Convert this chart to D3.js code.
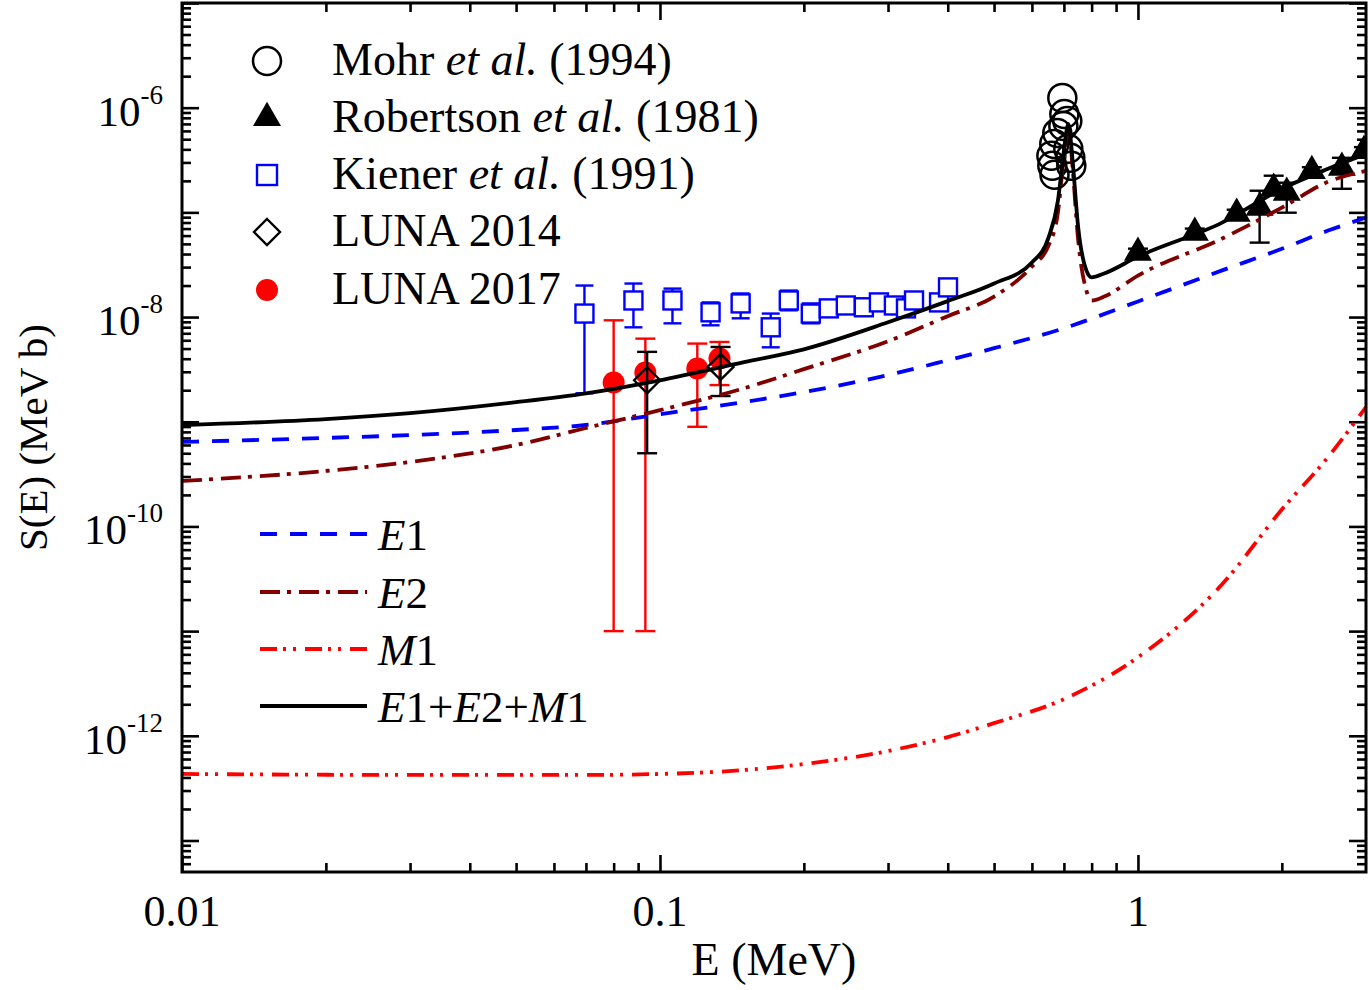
<!DOCTYPE html>
<html>
<head>
<meta charset="utf-8">
<script src="https://cdn.jsdelivr.net/npm/d3@7"></script>
<style>
body { margin: 0; background: #fff; }
text { font-family: "Liberation Serif", "Times New Roman", serif; fill: #000; }
</style>
</head>
<body>
<div id="chart"></div>
<script>
var svgWidth = 1369;
var svgHeight = 990;
var margin = {top: 3, right: 3, bottom: 118, left: 182};
var chartWidth = svgWidth - margin.left - margin.right;
var chartHeight = svgHeight - margin.top - margin.bottom;

// model curves (E in MeV, S in MeV b)
var curveE   = [0.01,0.02,0.03,0.05,0.07,0.1,0.15,0.2,0.3,0.4,0.5,0.6,0.65,0.68,0.70,0.71,0.715,0.72,0.73,0.75,0.78,0.8,0.85,1.0,1.5,2,2.5,3];
var totalS   = [9.31e-10,1.06e-9,1.21e-9,1.54e-9,1.87e-9,2.49e-9,3.71e-9,4.92e-9,8.91e-9,1.42e-8,2.09e-8,3.32e-8,5.74e-8,1.29e-7,3.87e-7,6.27e-7,7.0e-7,6.0e-7,3.11e-7,7.14e-8,2.79e-8,2.39e-8,2.61e-8,3.78e-8,7.98e-8,1.68e-7,2.61e-7,3.62e-7];
var e2S      = [2.72e-10,3.39e-10,4.13e-10,6.0e-10,8.71e-10,1.29e-9,2.09e-9,3.18e-9,5.88e-9,1.02e-8,1.57e-8,3.04e-8,4.82e-8,9.93e-8,3.47e-7,5.74e-7,6.41e-7,5.50e-7,2.67e-7,5.37e-8,1.79e-8,1.44e-8,1.57e-8,2.49e-8,5.62e-8,1.11e-7,1.96e-7,2.49e-7];
var e1E      = [0.01,0.02,0.03,0.05,0.07,0.1,0.15,0.2,0.3,0.4,0.5,0.7,1.0,1.5,2,2.5,3];
var e1S      = [6.41e-10,7.0e-10,7.46e-10,8.34e-10,9.31e-10,1.18e-9,1.54e-9,1.92e-9,2.79e-9,3.87e-9,5.04e-9,7.82e-9,1.41e-8,2.79e-8,4.49e-8,6.70e-8,8.91e-8];
var m1E      = [0.01,0.03,0.07,0.1,0.15,0.2,0.3,0.4,0.5,0.7,1.0,1.5,2,2.5,3];
var m1S      = [4.32e-13,4.23e-13,4.23e-13,4.32e-13,4.71e-13,5.37e-13,7.15e-13,9.72e-13,1.32e-12,2.24e-12,5.62e-12,2.8e-11,1.45e-10,4.61e-10,1.38e-9];

// data sets
var mohrE = [0.6947,0.7014,0.7116,0.6981,0.6780,0.6683,0.6590,0.6620,0.6690,0.7150,0.7219,0.7254];
var mohrS = [1.24e-6,8.71e-7,7.46e-7,6.70e-7,5.74e-7,4.51e-7,3.47e-7,2.79e-7,2.29e-7,4.05e-7,3.32e-7,2.79e-7];

var robE    = [1.00,1.315,1.609,1.797,1.923,2.048,2.311,2.671,2.97];
var robS    = [4.13e-8,6.41e-8,9.73e-8,1.11e-7,1.68e-7,1.54e-7,2.49e-7,2.67e-7,3.87e-7];
var robLo   = [3.8e-8,5.9e-8,9.0e-8,5.14e-8,1.50e-7,9.93e-8,2.3e-7,1.68e-7,3.6e-7];
var robHi   = [4.5e-8,7.0e-8,1.06e-7,1.61e-7,2.24e-7,1.92e-7,2.7e-7,3.32e-7,4.2e-7];

var kienerE  = [0.0695,0.0880,0.1062,0.1276,0.1475,0.1705,0.1860,0.2068,0.2255,0.2448,0.2670,0.2871,0.3086,0.3271,0.3400,0.3836,0.4005];
var kienerS  = [1.08e-8,1.44e-8,1.44e-8,1.11e-8,1.35e-8,7.98e-9,1.44e-8,1.08e-8,1.21e-8,1.29e-8,1.24e-8,1.38e-8,1.29e-8,1.21e-8,1.44e-8,1.38e-8,1.92e-8];
var kienerLo = [1.87e-9,7.98e-9,8.71e-9,8.34e-9,9.73e-9,5.14e-9,1.16e-8,8.71e-9,1.10e-8,1.18e-8,1.13e-8,1.26e-8,1.18e-8,1.10e-8,1.31e-8,1.26e-8,1.75e-8];
var kienerHi = [2.0e-8,2.09e-8,1.87e-8,1.38e-8,1.68e-8,1.08e-8,1.79e-8,1.35e-8,1.33e-8,1.41e-8,1.36e-8,1.51e-8,1.41e-8,1.33e-8,1.58e-8,1.51e-8,2.10e-8];

var luna14E  = [0.0940,0.1339];
var luna14S  = [2.49e-9,3.34e-9];
var luna14Lo = [5.0e-10,1.76e-9];
var luna14Hi = [4.65e-9,5.18e-9];

var luna17E  = [0.0800,0.0932,0.1197,0.1332];
var luna17S  = [2.37e-9,2.95e-9,3.23e-9,4.02e-9];
var luna17Lo = [1.0e-11,1.0e-11,8.95e-10,2.24e-9];
var luna17Hi = [9.31e-9,6.22e-9,5.58e-9,5.78e-9];

// axis ticks
var xMajor = [0.01,0.1,1];
var xLabels = ["0.01","0.1","1"];
var yMajor = [1e-13,1e-12,1e-11,1e-10,1e-9,1e-8,1e-7,1e-6,1e-5];
var yLabelExp = [-12,-10,-8,-6];

var svg = d3.select("#chart").append("svg").attr("width", svgWidth).attr("height", svgHeight);
var chartGroup = svg.append("g").attr("transform", `translate(${margin.left},${margin.top})`);

var x = d3.scaleLog().domain([0.01, 3]).range([0, chartWidth]);
var y = d3.scaleLog().domain([5e-14, 1e-5]).range([chartHeight, 0]);

// minor ticks from 2..9 of each decade
function minors(lo, hi, d0, d1) {
    var out = [];
    for (var d = d0; d <= d1; d++) {
        for (var k = 2; k <= 9; k++) {
            var v = k * Math.pow(10, d);
            if (v > lo * 1.0001 && v < hi * 0.9999) out.push(v);
        }
    }
    return out;
}
var xMinor = minors(0.01, 3, -2, 0);
var yMinor = minors(5e-14, 1e-5, -14, -6);

function drawTicks(axisFn, scale, vals, size, transform) {
    var g = chartGroup.append("g").attr("transform", transform)
        .call(axisFn(scale).tickValues(vals).tickSizeInner(-size).tickSizeOuter(0).tickFormat(""));
    g.select(".domain").remove();
    g.selectAll("line").attr("stroke", "#000").attr("stroke-width", 2.6);
}
drawTicks(d3.axisBottom, x, xMajor, 17, `translate(0,${chartHeight})`);
drawTicks(d3.axisBottom, x, xMinor, 9, `translate(0,${chartHeight})`);
drawTicks(d3.axisTop, x, xMajor, 17, "translate(0,0)");
drawTicks(d3.axisTop, x, xMinor, 9, "translate(0,0)");
drawTicks(d3.axisLeft, y, yMajor, 17, "translate(0,0)");
drawTicks(d3.axisLeft, y, yMinor, 9, "translate(0,0)");
drawTicks(d3.axisRight, y, yMajor, 17, `translate(${chartWidth},0)`);
drawTicks(d3.axisRight, y, yMinor, 9, `translate(${chartWidth},0)`);

// tick labels
chartGroup.selectAll(".xlab").data(xMajor).enter().append("text")
    .attr("x", d => x(d)).attr("y", chartHeight + 54)
    .attr("text-anchor", "middle").style("font-size", "44px")
    .text((d, i) => xLabels[i]);

var ylab = chartGroup.selectAll(".ylab").data(yLabelExp).enter().append("text")
    .attr("x", -19).attr("y", d => y(Math.pow(10, d)) + 18)
    .attr("text-anchor", "end").style("font-size", "43px");
ylab.append("tspan").text("10");
ylab.append("tspan").attr("dy", -22).style("font-size", "27px").text(d => String(d));

// axis titles
svg.append("text").attr("x", margin.left + chartWidth / 2).attr("y", 975)
    .attr("text-anchor", "middle").style("font-size", "46px").text("E (MeV)");
svg.append("text").attr("transform", `translate(47,${margin.top + chartHeight / 2}) rotate(-90)`)
    .attr("text-anchor", "middle").style("font-size", "41px").text("S(E) (MeV b)");

// clip
svg.append("defs").append("clipPath").attr("id", "clip")
    .append("rect").attr("width", chartWidth).attr("height", chartHeight);
var plot = chartGroup.append("g").attr("clip-path", "url(#clip)");

function errorBars(g, E, lo, hi, color, cap) {
    E.forEach(function(e, i) {
        var cx = x(e);
        g.append("line").attr("x1", cx).attr("x2", cx).attr("y1", y(lo[i])).attr("y2", y(hi[i]))
            .attr("stroke", color).attr("stroke-width", 2.4);
        [lo[i], hi[i]].forEach(function(v) {
            g.append("line").attr("x1", cx - cap / 2).attr("x2", cx + cap / 2).attr("y1", y(v)).attr("y2", y(v))
                .attr("stroke", color).attr("stroke-width", 2.4);
        });
    });
}

// Kiener squares
errorBars(plot, kienerE, kienerLo, kienerHi, "#0000ff", 18);
plot.selectAll(".kiener").data(kienerE).enter().append("rect")
    .attr("x", d => x(d) - 9).attr("y", (d, i) => y(kienerS[i]) - 9)
    .attr("width", 18).attr("height", 18)
    .attr("fill", "#fff").attr("stroke", "#0000ff").attr("stroke-width", 2.4);

// LUNA 2017
errorBars(plot, luna17E, luna17Lo, luna17Hi, "#ff0000", 20);
plot.selectAll(".l17").data(luna17E).enter().append("circle")
    .attr("cx", d => x(d)).attr("cy", (d, i) => y(luna17S[i])).attr("r", 11)
    .attr("fill", "#ff0000");

// LUNA 2014
errorBars(plot, luna14E, luna14Lo, luna14Hi, "#000", 20);
function diamond(r) { return `M0,${-r}L${r},0L0,${r}L${-r},0Z`; }
plot.selectAll(".l14").data(luna14E).enter().append("path")
    .attr("d", diamond(13))
    .attr("transform", (d, i) => `translate(${x(d)},${y(luna14S[i])})`)
    .attr("fill", "none").attr("stroke", "#000").attr("stroke-width", 2.4);

// Robertson triangles
errorBars(plot, robE, robLo, robHi, "#000", 20);
var tri = d3.symbol().type(d3.symbolTriangle).size(340);
plot.selectAll(".rob").data(robE).enter().append("path")
    .attr("d", tri)
    .attr("transform", (d, i) => `translate(${x(d)},${y(robS[i])})`)
    .attr("fill", "#000");

// Mohr circles
plot.selectAll(".mohr").data(mohrE).enter().append("circle")
    .attr("cx", d => x(d)).attr("cy", (d, i) => y(mohrS[i])).attr("r", 14)
    .attr("fill", "none").attr("stroke", "#000").attr("stroke-width", 2.5);

// curves
var styles = {
    e1:    {color: "#0000ff", dash: "17,13"},
    e2:    {color: "#800000", dash: "20,7,4,8"},
    m1:    {color: "#ff0000", dash: "17,6,3,7,3,9"},
    total: {color: "#000", dash: null}
};
var line = d3.line().x(d => x(d[0])).y(d => y(d[1])).curve(d3.curveMonotoneX);
function drawCurve(E, S, st) {
    plot.append("path").datum(E.map((e, i) => [e, S[i]]))
        .attr("d", line).attr("fill", "none")
        .attr("stroke", st.color).attr("stroke-width", 3.8)
        .attr("stroke-dasharray", st.dash);
}
drawCurve(m1E, m1S, styles.m1);
drawCurve(e1E, e1S, styles.e1);
drawCurve(curveE, e2S, styles.e2);
drawCurve(curveE, totalS, styles.total);

// frame
chartGroup.append("rect").attr("width", chartWidth).attr("height", chartHeight)
    .attr("fill", "none").attr("stroke", "#000").attr("stroke-width", 3);

// legend: data sets
var legX = 267, textX = 332;
var legRows = [61, 118, 175, 232, 290];
var leg = svg.append("g");
leg.append("circle").attr("cx", legX).attr("cy", legRows[0]).attr("r", 14)
    .attr("fill", "none").attr("stroke", "#000").attr("stroke-width", 2.5);
leg.append("path").attr("d", tri).attr("transform", `translate(${legX},${legRows[1]})`).attr("fill", "#000");
leg.append("rect").attr("x", legX - 10).attr("y", legRows[2] - 10).attr("width", 20).attr("height", 20)
    .attr("fill", "none").attr("stroke", "#0000ff").attr("stroke-width", 2.4);
leg.append("path").attr("d", diamond(13)).attr("transform", `translate(${legX},${legRows[3]})`)
    .attr("fill", "none").attr("stroke", "#000").attr("stroke-width", 2.4);
leg.append("circle").attr("cx", legX).attr("cy", legRows[4]).attr("r", 11).attr("fill", "#ff0000");

var legendText = [
    [["Mohr ", false], ["et al.", true], [" (1994)", false]],
    [["Robertson ", false], ["et al.", true], [" (1981)", false]],
    [["Kiener ", false], ["et al.", true], [" (1991)", false]],
    [["LUNA 2014", false]],
    [["LUNA 2017", false]]
];
legendText.forEach(function(parts, i) {
    var t = leg.append("text").attr("x", textX).attr("y", legRows[i] + 14).style("font-size", "46px")
        .attr("xml:space", "preserve");
    parts.forEach(function(p) {
        t.append("tspan").style("font-style", p[1] ? "italic" : "normal").text(p[0]);
    });
});

// legend: curves
var lineRows = [534, 592, 649, 706];
var lineKeys = ["e1", "e2", "m1", "total"];
var lineText = [
    [["E", true], ["1", false]],
    [["E", true], ["2", false]],
    [["M", true], ["1", false]],
    [["E", true], ["1+", false], ["E", true], ["2+", false], ["M", true], ["1", false]]
];
lineKeys.forEach(function(k, i) {
    leg.append("line").attr("x1", 260).attr("x2", 367).attr("y1", lineRows[i]).attr("y2", lineRows[i])
        .attr("stroke", styles[k].color).attr("stroke-width", 3.8).attr("stroke-dasharray", styles[k].dash);
    var t = leg.append("text").attr("x", 378).attr("y", lineRows[i] + 16).style("font-size", "45px");
    lineText[i].forEach(function(p) {
        t.append("tspan").style("font-style", p[1] ? "italic" : "normal").text(p[0]);
    });
});
</script>
</body>
</html>
